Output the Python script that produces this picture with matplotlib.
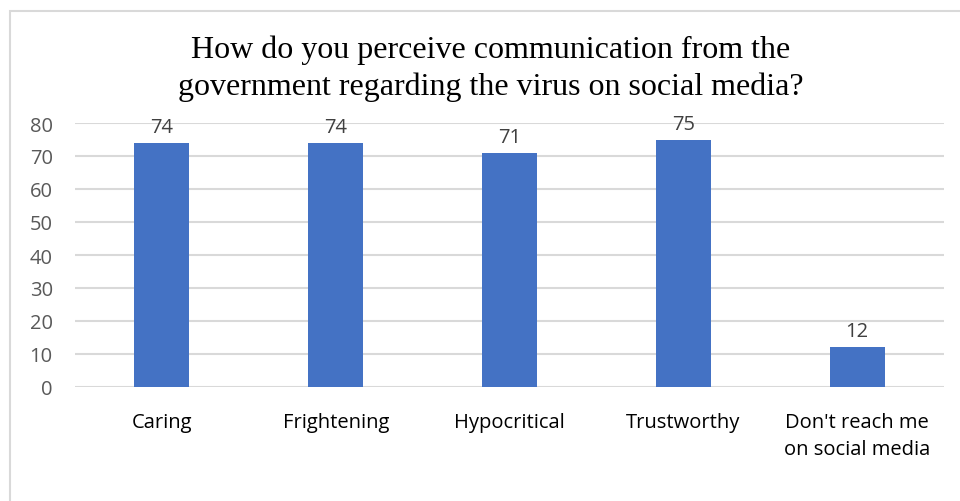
import matplotlib
matplotlib.use("Agg")
import matplotlib.pyplot as plt
from matplotlib.patches import Rectangle

categories = ["Caring", "Frightening", "Hypocritical", "Trustworthy",
              "Don't reach me\non social media"]
values = [74, 74, 71, 75, 12]
yticks = [0, 10, 20, 30, 40, 50, 60, 70, 80]

plt.rcParams['font.family'] = ['Open Sans', 'DejaVu Sans']

fig = plt.figure(figsize=(9.6, 5.02), dpi=100)
ax = fig.add_axes([75 / 960, 1 - 388 / 502, 869 / 960, 264 / 502])

# chart frame (runs off the right and bottom edges)
fig.patches.append(Rectangle((10 / 960, -0.1), 1.2, 1 - 12 / 502 + 0.1,
                             transform=fig.transFigure, fill=False,
                             edgecolor='#d9d9d9', linewidth=1.5))

x = range(len(categories))
bars = ax.bar(x, values, width=0.316, color='#4472C4', zorder=3)
for b, v in zip(bars, values):
    ax.text(b.get_x() + b.get_width() / 2, v + 1.8, str(v),
            ha='center', va='bottom', fontsize=14.5, color='#404040')

ax.set_xlim(-0.5, len(categories) - 0.5)
ax.set_ylim(0, 80)
ax.set_yticks(yticks)
ax.set_yticklabels([str(t) for t in yticks], fontsize=14.5, color='#595959')
ax.set_xticks(list(x))
ax.set_xticklabels(categories, fontsize=14.5, color='#000000',
                   linespacing=1.45, va='top')
ax.tick_params(axis='both', length=0)
ax.tick_params(axis='x', pad=18)
ax.tick_params(axis='y', pad=16)
ax.grid(axis='y', color='#d9d9d9', linewidth=1.5, zorder=0)
for s in ax.spines.values():
    s.set_visible(False)

fig.text(491 / 960, 1 - 69 / 502,
         "How do you perceive communication from the\n"
         "government regarding the virus on social media?",
         ha='center', va='center', fontsize=23, family='Liberation Serif',
         linespacing=1.32, color='#000000')

fig.savefig("out.png", dpi=100)
